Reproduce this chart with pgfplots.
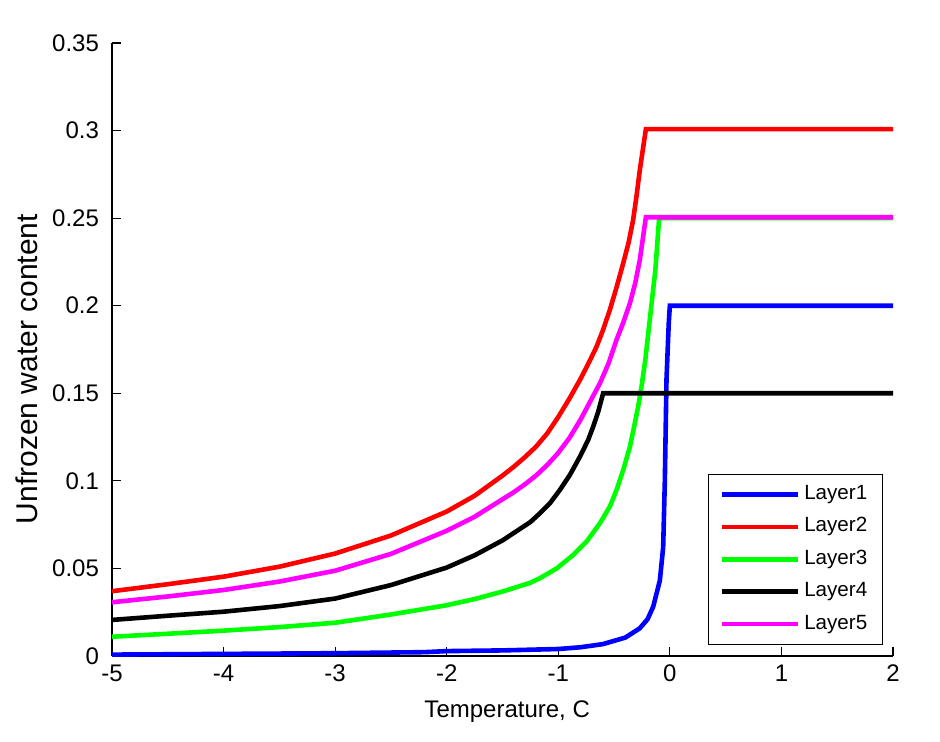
\documentclass[border=0pt]{standalone}
\usepackage{fontspec}
\setmainfont{Liberation Sans}
\usepackage{pgfplots}
\pgfplotsset{compat=1.18}
\definecolor{mblue}{rgb}{0,0,1}
\definecolor{mred}{rgb}{1,0,0}
\definecolor{mgreen}{rgb}{0,1,0}
\definecolor{mmag}{rgb}{1,0,1}
\begin{document}
\begin{tikzpicture}
\useasboundingbox (-56pt,-42.5pt) rectangle (414pt,328pt);
\begin{axis}[
  scale only axis, width=390.5pt, height=306.5pt,
  xmin=-5, xmax=2, ymin=0, ymax=0.35,
  axis x line*=bottom, axis y line*=left,
  axis line style={line width=0.75pt},
  tick align=inside, major tick length=4.5pt,
  tick style={line width=0.6pt, black},
  xtick={-5,-4,-3,-2,-1,0,1,2},
  xticklabels={-5,-4,-3,-2,-1,0,1,2},
  ytick={0,0.05,0.1,0.15,0.2,0.25,0.3,0.35},
  yticklabels={0,0.05,0.1,0.15,0.2,0.25,0.3,0.35},
  tick label style={font=\fontsize{12}{14}\selectfont},
  /pgf/number format/assume math mode=true,
  yticklabel style={xshift=-3pt},
  xticklabel style={yshift=-1pt},
  xlabel={Temperature, C}, ylabel={Unfrozen water content},
  xlabel style={font=\fontsize{12}{14}\selectfont, at={(axis description cs:0.506,-0.1007)}, anchor=base},
  ylabel style={font=\fontsize{15}{17}\selectfont, at={(axis description cs:-0.1088,0.468)}, anchor=center},
  legend cell align=left,
  legend style={at={(rel axis cs:0.987,0.018)}, anchor=south east,
    draw=black, line width=0.6pt, fill=white,
    font=\fontsize{10.3}{12}\selectfont,
    inner xsep=5.5pt, inner ysep=3.6pt, row sep=3.2pt,
    nodes={inner sep=2pt, text height=7pt, text depth=2pt}},
  legend image code/.code={\draw[#1, line width=2.3pt] (0pt,0pt) -- (38pt,0pt);},
  every axis plot/.append style={line width=2.3pt},
]
\addplot[mblue] coordinates {
(-5,0.0008) (-4.5,0.0010) (-4,0.0012) (-3,0.0016) (-2.2,0.0022) (-2,0.0028)
(-1.5,0.0032) (-1,0.0040) (-0.8,0.0050) (-0.6,0.0068) (-0.4,0.0105) (-0.27,0.0158)
(-0.2,0.021) (-0.15,0.028) (-0.09,0.043) (-0.06,0.062) (-0.045,0.10) (-0.03,0.158)
(-0.01,0.19) (0,0.2) (2,0.2)};
\addlegendentry{Layer1}
\addplot[mred] coordinates {
(-5,0.037) (-4.5,0.041) (-4,0.0453) (-3.5,0.051) (-3,0.0585) (-2.5,0.0688)
(-2,0.0825) (-1.75,0.0915) (-1.5,0.103) (-1.4,0.108) (-1.3,0.1135) (-1.2,0.1195)
(-1.1,0.127) (-1.0,0.1365) (-0.9,0.147) (-0.806,0.1576) (-0.73,0.167) (-0.657,0.1766)
(-0.6,0.186) (-0.538,0.1976) (-0.48,0.210) (-0.418,0.2243) (-0.37,0.236) (-0.329,0.249)
(-0.3,0.262) (-0.269,0.2776) (-0.24,0.290) (-0.215,0.3008) (2,0.3008)};
\addlegendentry{Layer2}
\addplot[mgreen] coordinates {
(-5,0.011) (-4.5,0.0127) (-4,0.0145) (-3.5,0.0165) (-3,0.019) (-2.5,0.0237)
(-2,0.029) (-1.75,0.0325) (-1.5,0.0368) (-1.25,0.0418) (-1.165,0.0444) (-1.015,0.050)
(-0.866,0.0577) (-0.747,0.0653) (-0.627,0.0758) (-0.538,0.0853) (-0.478,0.0948)
(-0.418,0.1062) (-0.358,0.1195) (-0.314,0.1329) (-0.284,0.1424) (-0.254,0.1538)
(-0.22,0.169) (-0.18,0.192) (-0.13,0.2204) (-0.096,0.25) (2,0.25)};
\addlegendentry{Layer3}
\addplot[black] coordinates {
(-5,0.0206) (-4.5,0.023) (-4,0.0253) (-3.5,0.0285) (-3,0.0328) (-2.5,0.0405)
(-2,0.0505) (-1.75,0.0575) (-1.5,0.066) (-1.25,0.0765) (-1.165,0.0815) (-1.075,0.0872)
(-0.986,0.0948) (-0.896,0.1034) (-0.806,0.1138) (-0.732,0.1234) (-0.687,0.131)
(-0.642,0.1395) (-0.598,0.15) (2,0.15)};
\addlegendentry{Layer4}
\addplot[mmag] coordinates {
(-5,0.0307) (-4.5,0.034) (-4,0.0377) (-3.5,0.0425) (-3,0.0487) (-2.5,0.0583)
(-2,0.0715) (-1.75,0.0795) (-1.5,0.0895) (-1.4,0.0935) (-1.3,0.098) (-1.2,0.103)
(-1.1,0.109) (-1.0,0.116) (-0.9,0.1245) (-0.8,0.135) (-0.7,0.147) (-0.627,0.1557)
(-0.55,0.167) (-0.478,0.1805) (-0.42,0.190) (-0.358,0.2014) (-0.31,0.213) (-0.269,0.2262)
(-0.215,0.2505) (2,0.2505)};
\addlegendentry{Layer5}
\end{axis}
\end{tikzpicture}
\end{document}
